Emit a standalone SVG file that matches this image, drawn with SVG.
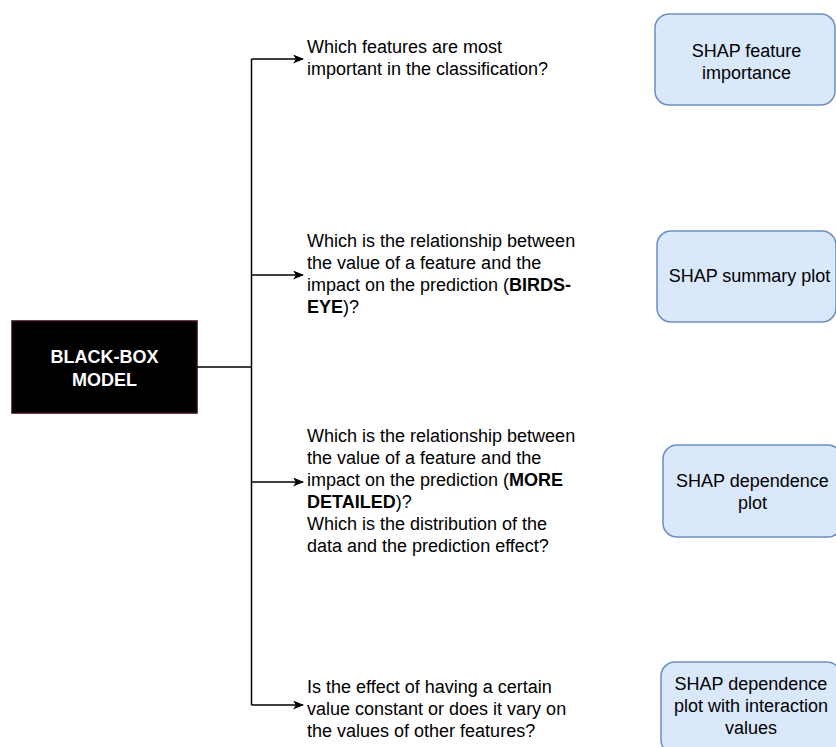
<svg xmlns="http://www.w3.org/2000/svg" width="836" height="747" viewBox="0 0 836 747">
<style>
text{font-family:"Liberation Sans",Arial,sans-serif;font-size:18px;fill:#000}
.q{text-anchor:start}
.c{text-anchor:middle}
.b{font-weight:bold}
.shap{fill:#dae8fc;stroke:#6c8ebf;stroke-width:1.5}
.edge{fill:none;stroke:#000;stroke-width:1.5}
</style>
<defs>
<marker id="arr" viewBox="0 0 10 10" refX="9" refY="5" markerWidth="11" markerHeight="9" markerUnits="userSpaceOnUse" orient="auto" preserveAspectRatio="none">
<path d="M0,0 L10,5 L0,10 L2.5,5 Z" fill="#000"/>
</marker>
</defs>
<rect width="836" height="747" fill="#fff"/>
<g id="connectors">
<path class="edge" d="M197,367 H251.5"/>
<path class="edge" d="M251.5,59 V705"/>
<path class="edge" d="M251.5,59 H303" marker-end="url(#arr)"/>
<path class="edge" d="M251.5,275 H303" marker-end="url(#arr)"/>
<path class="edge" d="M251.5,482 H303" marker-end="url(#arr)"/>
<path class="edge" d="M251.5,705 H303" marker-end="url(#arr)"/>
</g>
<g id="blackbox">
<rect x="12" y="321" width="185" height="92" fill="#000" stroke="#33001a" stroke-width="1.5"/>
<text class="c b" x="104.5" y="363" style="fill:#fff">BLACK-BOX</text>
<text class="c b" x="104.5" y="386" style="fill:#fff">MODEL</text>
</g>
<g id="q1">
<text class="q" x="307" y="53">Which features are most</text>
<text class="q" x="307" y="75">important in the classification?</text>
</g>
<g id="q2">
<text class="q" x="307" y="247">Which is the relationship between</text>
<text class="q" x="307" y="269">the value of a feature and the</text>
<text class="q" x="307" y="291">impact on the prediction (<tspan class="b">BIRDS-</tspan></text>
<text class="q" x="307" y="313"><tspan class="b">EYE</tspan>)?</text>
</g>
<g id="q3">
<text class="q" x="307" y="442">Which is the relationship between</text>
<text class="q" x="307" y="464">the value of a feature and the</text>
<text class="q" x="307" y="486">impact on the prediction (<tspan class="b">MORE</tspan></text>
<text class="q" x="307" y="508"><tspan class="b">DETAILED</tspan>)?</text>
<text class="q" x="307" y="530">Which is the distribution of the</text>
<text class="q" x="307" y="552">data and the prediction effect?</text>
</g>
<g id="q4">
<text class="q" x="307" y="693">Is the effect of having a certain</text>
<text class="q" x="307" y="715">value constant or does it vary on</text>
<text class="q" x="307" y="737">the values of other features?</text>
</g>
<g id="shap1">
<rect class="shap" x="655" y="14" width="180" height="91" rx="14" ry="14"/>
<text class="c" x="746.5" y="57">SHAP feature</text>
<text class="c" x="746.5" y="79">importance</text>
</g>
<g id="shap2">
<rect class="shap" x="657" y="231" width="179" height="91" rx="14" ry="14"/>
<text class="c" x="749.5" y="282">SHAP summary plot</text>
</g>
<g id="shap3">
<rect class="shap" x="663" y="445" width="179" height="92" rx="14" ry="14"/>
<text class="c" x="752.5" y="487">SHAP dependence</text>
<text class="c" x="752.5" y="509">plot</text>
</g>
<g id="shap4">
<rect class="shap" x="661" y="662" width="180" height="92" rx="14" ry="14"/>
<text class="c" x="751" y="690">SHAP dependence</text>
<text class="c" x="751" y="712">plot with interaction</text>
<text class="c" x="751" y="734">values</text>
</g>
</svg>
